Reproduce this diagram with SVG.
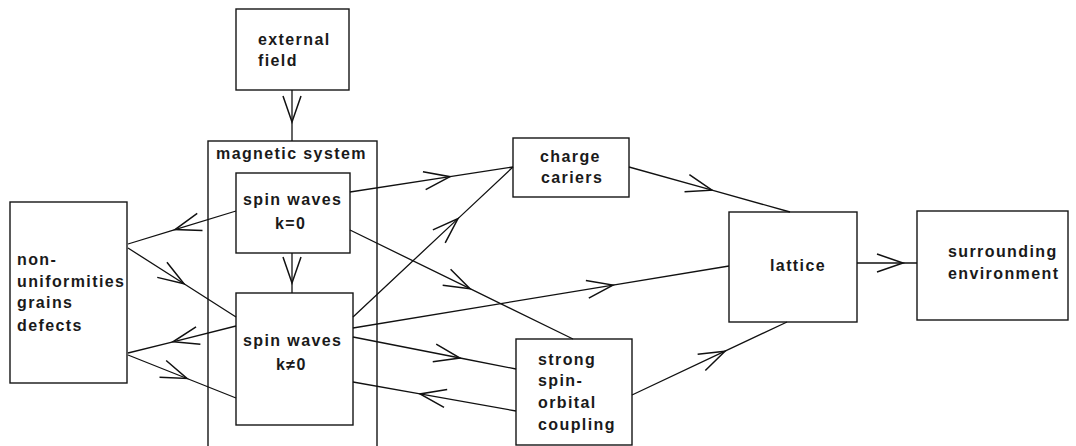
<svg xmlns="http://www.w3.org/2000/svg" width="1076" height="446" viewBox="0 0 1076 446">
  <defs>
    <!-- open V arrowhead, placed on the middle vertex of each connector -->
    <marker id="vee" markerUnits="userSpaceOnUse" viewBox="-30 -12 34 24" refX="0" refY="0" markerWidth="34" markerHeight="24" orient="auto" overflow="visible">
      <path d="M-26,-9 L0,0 L-26,9" fill="none" stroke="#111" stroke-width="1.5" stroke-linejoin="miter"/>
    </marker>
  </defs>
  <style>
    .box { fill: #fff; stroke: #151515; stroke-width: 1.4; }
    .lbl { font-family: "Liberation Sans", Arial, sans-serif; font-weight: bold; font-size: 16px; letter-spacing: 1.4px; fill: #1a1a1a; }
    .conn path { fill: none; stroke: #111; stroke-width: 1.3; marker-mid: url(#vee); }
  </style>
  <rect width="1076" height="446" fill="#fff"/>

  <g id="magnetic-system">
    <rect class="box" x="208" y="141" width="169" height="330"/>
    <text class="lbl" x="216" y="159">magnetic system</text>
  </g>

  <g id="external-field">
    <rect class="box" x="236" y="9" width="113" height="81"/>
    <text class="lbl" x="258" y="45">external</text>
    <text class="lbl" x="258" y="66">field</text>
  </g>

  <g id="spin-waves-k0">
    <rect class="box" x="236" y="173" width="114" height="80"/>
    <text class="lbl" x="243" y="205">spin waves</text>
    <text class="lbl" x="275" y="229">k=0</text>
  </g>

  <g id="spin-waves-k">
    <rect class="box" x="236" y="293" width="117" height="132"/>
    <text class="lbl" x="243" y="346">spin waves</text>
    <text class="lbl" x="276" y="370">k≠0</text>
  </g>

  <g id="non-uniformities">
    <rect class="box" x="10" y="202" width="117" height="181"/>
    <text class="lbl" x="17" y="265">non-</text>
    <text class="lbl" x="17" y="287">uniformities</text>
    <text class="lbl" x="17" y="308">grains</text>
    <text class="lbl" x="17" y="331">defects</text>
  </g>

  <g id="charge-cariers">
    <rect class="box" x="513" y="138" width="116" height="59"/>
    <text class="lbl" x="540" y="162">charge</text>
    <text class="lbl" x="541" y="183">cariers</text>
  </g>

  <g id="strong-coupling">
    <rect class="box" x="516" y="339" width="116" height="106"/>
    <text class="lbl" x="538" y="365">strong</text>
    <text class="lbl" x="538" y="386">spin-</text>
    <text class="lbl" x="538" y="408">orbital</text>
    <text class="lbl" x="538" y="430">coupling</text>
  </g>

  <g id="lattice">
    <rect class="box" x="729" y="212" width="128" height="110"/>
    <text class="lbl" x="770" y="271">lattice</text>
  </g>

  <g id="surrounding-environment">
    <rect class="box" x="917" y="211" width="151" height="109"/>
    <text class="lbl" x="948" y="257">surrounding</text>
    <text class="lbl" x="948" y="279">environment</text>
  </g>

  <g id="connectors" class="conn">
    <path d="M292,90 L292,122 L292,141"/>
    <path d="M292,253 L292,283 L292,293"/>
    <path d="M236,211 L175,229.6 L128,244"/>
    <path d="M128,248 L184,283.8 L236,317"/>
    <path d="M236,326 L173,341.8 L128,353"/>
    <path d="M128,355 L187,378.5 L236,398"/>
    <path d="M350,192 L450,176.7 L513,167"/>
    <path d="M353,317 L458,218.6 L513,167"/>
    <path d="M350,230 L470,288.7 L573,339"/>
    <path d="M353,328 L613,285.1 L729,266"/>
    <path d="M353,337 L460,358 L516,369"/>
    <path d="M516,411 L420,393.9 L353,382"/>
    <path d="M629,167 L712,190.2 L790,212"/>
    <path d="M632,395 L725,351.2 L787,322"/>
    <path d="M857,263 L903,263 L917,263"/>
  </g>
</svg>
